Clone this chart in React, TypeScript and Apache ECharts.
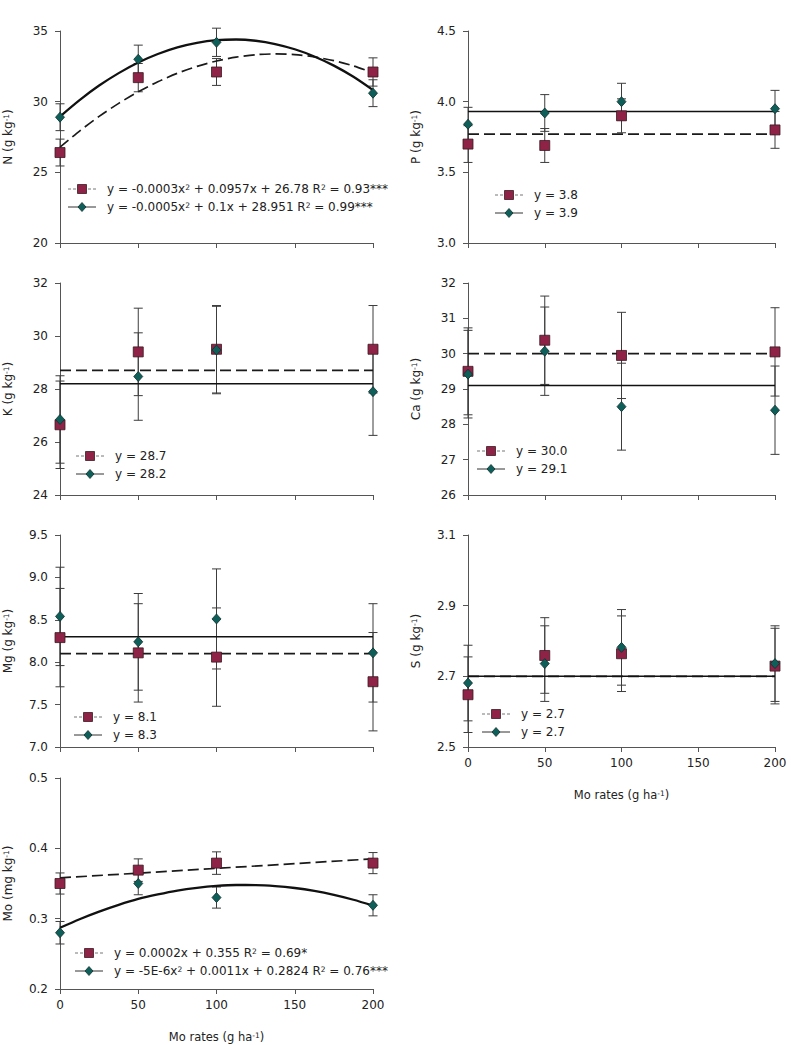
import React, { useEffect, useRef } from "react";
import * as echarts from "echarts";

// Mo application rates (g ha-1) where samples were taken
const rates = [0, 50, 100, 200];
// x positions of the sampled regression curves
const fitX = [0, 12.5, 25, 37.5, 50, 62.5, 75, 87.5, 100, 112.5, 125, 137.5, 150, 162.5, 175, 187.5, 200];

// N (g kg-1)
const nTicks = [20, 25, 30, 35];
const nRed = [26.4, 31.7, 32.1, 32.1];
const nRedErr = [0.95, 1.0, 0.95, 1.0];
const nGreen = [28.9, 33.0, 34.2, 30.6];
const nGreenErr = [0.95, 1.0, 1.0, 0.95];
const nRedCurve = [26.78, 27.92, 28.96, 29.88, 30.7, 31.41, 32.01, 32.5, 32.88, 33.15, 33.32, 33.38, 33.33, 33.17, 32.9, 32.53, 32.04];
const nGreenCurve = [28.95, 30.11, 31.14, 32.02, 32.77, 33.37, 33.84, 34.16, 34.35, 34.4, 34.31, 34.08, 33.71, 33.2, 32.55, 31.76, 30.82];

// P (g kg-1)
const pTicks = [3.0, 3.5, 4.0, 4.5];
const pRed = [3.7, 3.69, 3.9, 3.8];
const pRedErr = [0.13, 0.12, 0.12, 0.13];
const pGreen = [3.84, 3.92, 4.0, 3.95];
const pGreenErr = [0.12, 0.13, 0.13, 0.13];
const pRedMean = 3.77;
const pGreenMean = 3.93;

// K (g kg-1)
const kTicks = [24, 26, 28, 30, 32];
const kRed = [26.65, 29.4, 29.5, 29.5];
const kRedErr = [1.65, 1.65, 1.65, 1.65];
const kGreen = [26.85, 28.47, 29.47, 27.9];
const kGreenErr = [1.65, 1.65, 1.65, 1.65];
const kRedMean = 28.7;
const kGreenMean = 28.2;

// Ca (g kg-1)
const caTicks = [26, 27, 28, 29, 30, 31, 32];
const caRed = [29.5, 30.38, 29.95, 30.05];
const caRedErr = [1.23, 1.25, 1.22, 1.25];
const caGreen = [29.42, 30.07, 28.5, 28.4];
const caGreenErr = [1.24, 1.25, 1.23, 1.25];
const caRedMean = 30.0;
const caGreenMean = 29.1;

// Mg (g kg-1)
const mgTicks = [7.0, 7.5, 8.0, 8.5, 9.0, 9.5];
const mgRed = [8.29, 8.11, 8.06, 7.77];
const mgRedErr = [0.58, 0.58, 0.58, 0.58];
const mgGreen = [8.54, 8.24, 8.51, 8.11];
const mgGreenErr = [0.58, 0.57, 0.59, 0.58];
const mgRedMean = 8.1;
const mgGreenMean = 8.3;

// S (g kg-1)
const sTicks = [2.5, 2.7, 2.9, 3.1];
const sRed = [2.648, 2.759, 2.764, 2.729];
const sRedErr = [0.107, 0.107, 0.107, 0.107];
const sGreen = [2.681, 2.736, 2.782, 2.736];
const sGreenErr = [0.107, 0.107, 0.107, 0.107];
const sRedMean = 2.7;
const sGreenMean = 2.7;

// Mo (mg kg-1)
const moTicks = [0.2, 0.3, 0.4, 0.5];
const moRed = [0.35, 0.369, 0.379, 0.379];
const moRedErr = [0.015, 0.016, 0.016, 0.015];
const moGreen = [0.28, 0.35, 0.33, 0.319];
const moGreenErr = [0.016, 0.016, 0.015, 0.015];
const moLineX = [0, 200];
const moRedLine = [0.358, 0.385];
const moGreenCurve = [0.287, 0.2992, 0.31, 0.3196, 0.328, 0.3345, 0.34, 0.3439, 0.3466, 0.3479, 0.3478, 0.3464, 0.3436, 0.3394, 0.3338, 0.3269, 0.3186];

const FONT = "'DejaVu Sans', Verdana, sans-serif";
const RED = "#8E2347";
const GREEN = "#0E5F59";
const AXIS = "#555555";
const TEXT = "#222222";
const SUP = { fontSize: 7.5, verticalAlign: "top", lineHeight: 10, padding: [0, 0, 5, 0], fontFamily: FONT, color: TEXT };

const pairs = (xs: number[], ys: number[]) => xs.map((x, i) => [x, ys[i]]);
const flat = (m: number) => [[0, m], [200, m]];
const errs = (vals: number[], e: number[]) => rates.map((x, i) => [x, vals[i] - e[i], vals[i] + e[i]]);
const meanLabel = (m: number) => "y = " + m.toFixed(1);

type Panel = {
  yName: string;
  ticks: number[];
  dec: number;
  red: number[];
  redErr: number[];
  green: number[];
  greenErr: number[];
  redFit: number[][];
  greenFit: number[][];
  redLabel: string;
  greenLabel: string;
  box: number[];
  legend: number[];
  showX: boolean;
};

const panels: Panel[] = [
  {
    yName: "N (g kg{sup|-1})", ticks: nTicks, dec: 0,
    red: nRed, redErr: nRedErr, green: nGreen, greenErr: nGreenErr,
    redFit: pairs(fitX, nRedCurve), greenFit: pairs(fitX, nGreenCurve),
    redLabel: "y = -0.0003x{sup|2} + 0.0957x + 26.78 R{sup|2} = 0.93***",
    greenLabel: "y = -0.0005x{sup|2} + 0.1x + 28.951 R{sup|2} = 0.99***",
    box: [60, 31, 313, 212], legend: [68, 189], showX: false,
  },
  {
    yName: "P (g kg{sup|-1})", ticks: pTicks, dec: 1,
    red: pRed, redErr: pRedErr, green: pGreen, greenErr: pGreenErr,
    redFit: flat(pRedMean), greenFit: flat(pGreenMean),
    redLabel: meanLabel(pRedMean), greenLabel: meanLabel(pGreenMean),
    box: [468, 31, 307, 212], legend: [495, 195], showX: false,
  },
  {
    yName: "K (g kg{sup|-1})", ticks: kTicks, dec: 0,
    red: kRed, redErr: kRedErr, green: kGreen, greenErr: kGreenErr,
    redFit: flat(kRedMean), greenFit: flat(kGreenMean),
    redLabel: meanLabel(kRedMean), greenLabel: meanLabel(kGreenMean),
    box: [60, 283, 313, 212], legend: [76, 456], showX: false,
  },
  {
    yName: "Ca (g kg{sup|-1})", ticks: caTicks, dec: 0,
    red: caRed, redErr: caRedErr, green: caGreen, greenErr: caGreenErr,
    redFit: flat(caRedMean), greenFit: flat(caGreenMean),
    redLabel: meanLabel(caRedMean), greenLabel: meanLabel(caGreenMean),
    box: [468, 283, 307, 212], legend: [477, 451], showX: false,
  },
  {
    yName: "Mg (g kg{sup|-1})", ticks: mgTicks, dec: 1,
    red: mgRed, redErr: mgRedErr, green: mgGreen, greenErr: mgGreenErr,
    redFit: flat(mgRedMean), greenFit: flat(mgGreenMean),
    redLabel: meanLabel(mgRedMean), greenLabel: meanLabel(mgGreenMean),
    box: [60, 535, 313, 212], legend: [74, 717], showX: false,
  },
  {
    yName: "S (g kg{sup|-1})", ticks: sTicks, dec: 1,
    red: sRed, redErr: sRedErr, green: sGreen, greenErr: sGreenErr,
    redFit: flat(sRedMean), greenFit: flat(sGreenMean),
    redLabel: meanLabel(sRedMean), greenLabel: meanLabel(sGreenMean),
    box: [468, 535, 307, 212], legend: [482, 714], showX: true,
  },
  {
    yName: "Mo (mg kg{sup|-1})", ticks: moTicks, dec: 1,
    red: moRed, redErr: moRedErr, green: moGreen, greenErr: moGreenErr,
    redFit: pairs(moLineX, moRedLine), greenFit: pairs(fitX, moGreenCurve),
    redLabel: "y = 0.0002x + 0.355 R{sup|2} = 0.69*",
    greenLabel: "y = -5E-6x{sup|2} + 0.0011x + 0.2824 R{sup|2} = 0.76***",
    box: [60, 778, 313, 212], legend: [75, 953], showX: true,
  },
];

const errorBarRender = (params: any, api: any) => {
  const x = api.value(0);
  const lo = api.coord([x, api.value(1)]);
  const hi = api.coord([x, api.value(2)]);
  const cap = 4.5;
  const style = { stroke: "#3c3c3c", lineWidth: 1 };
  return {
    type: "group",
    children: [
      { type: "line", shape: { x1: lo[0], y1: lo[1], x2: hi[0], y2: hi[1] }, style },
      { type: "line", shape: { x1: lo[0] - cap, y1: lo[1], x2: lo[0] + cap, y2: lo[1] }, style },
      { type: "line", shape: { x1: hi[0] - cap, y1: hi[1], x2: hi[0] + cap, y2: hi[1] }, style },
    ],
  };
};

function buildOption() {
  const grid: any[] = [];
  const xAxis: any[] = [];
  const yAxis: any[] = [];
  const series: any[] = [];
  const graphic: any[] = [];

  panels.forEach((p, i) => {
    const [left, top, width, height] = p.box;
    grid.push({ left, top, width, height, containLabel: false });
    xAxis.push({
      type: "value", gridIndex: i, min: 0, max: 200, interval: 50,
      axisLine: { show: true, lineStyle: { color: AXIS, width: 1 } },
      axisTick: { show: true, length: 5, inside: false, lineStyle: { color: AXIS } },
      axisLabel: { show: p.showX, margin: 10, fontSize: 12, fontFamily: FONT, color: TEXT },
      splitLine: { show: false },
      name: p.showX ? "Mo rates (g ha{sup|-1})" : "",
      nameLocation: "middle",
      nameGap: 42,
      nameTextStyle: { fontSize: 11.5, fontFamily: FONT, color: TEXT, rich: { sup: SUP } },
    });
    const lo = p.ticks[0];
    const hi = p.ticks[p.ticks.length - 1];
    yAxis.push({
      type: "value", gridIndex: i, min: lo, max: hi,
      axisLine: { show: true, lineStyle: { color: AXIS, width: 1 } },
      axisTick: { show: true, length: 5, inside: false, customValues: p.ticks, lineStyle: { color: AXIS } },
      axisLabel: {
        show: true, margin: 12, fontSize: 12, fontFamily: FONT, color: TEXT,
        customValues: p.ticks,
        formatter: (v: number) => v.toFixed(p.dec),
      },
      splitLine: { show: false },
      name: p.yName,
      nameLocation: "middle",
      nameRotate: 90,
      nameGap: 46,
      nameTextStyle: { fontSize: 12, fontFamily: FONT, color: TEXT, rich: { sup: SUP } },
    });

    // error bars
    series.push({
      type: "custom", xAxisIndex: i, yAxisIndex: i, z: 2,
      renderItem: errorBarRender,
      encode: { x: 0, y: [1, 2] },
      data: [...errs(p.red, p.redErr), ...errs(p.green, p.greenErr)],
      silent: true,
    });
    // fitted lines
    series.push({
      type: "line", xAxisIndex: i, yAxisIndex: i, z: 3,
      data: p.redFit, smooth: p.redFit.length > 2 ? 0.25 : false, showSymbol: false, symbol: "none",
      lineStyle: { color: "#1a1a1a", width: 1.7, type: [11, 5] },
      silent: true,
    });
    series.push({
      type: "line", xAxisIndex: i, yAxisIndex: i, z: 4,
      data: p.greenFit, smooth: p.greenFit.length > 2 ? 0.25 : false, showSymbol: false, symbol: "none",
      lineStyle: { color: "#111111", width: p.greenFit.length > 2 ? 2.3 : 1.5, type: "solid" },
      silent: true,
    });
    // observed means
    series.push({
      type: "scatter", xAxisIndex: i, yAxisIndex: i, z: 5,
      data: pairs(rates, p.red), symbol: "rect", symbolSize: 10,
      itemStyle: { color: RED, borderColor: "#3a1a22", borderWidth: 0.8, opacity: 1 },
      silent: true,
    });
    series.push({
      type: "scatter", xAxisIndex: i, yAxisIndex: i, z: 6,
      data: pairs(rates, p.green), symbol: "diamond", symbolSize: [9, 10],
      itemStyle: { color: GREEN, borderColor: "#10302d", borderWidth: 0.8, opacity: 1 },
      silent: true,
    });

    // legend key for each panel
    const [lx, ly] = p.legend;
    const ly2 = ly + 18;
    const mx = lx + 14;
    graphic.push(
      { type: "line", shape: { x1: lx, y1: ly, x2: lx + 28, y2: ly }, style: { stroke: "#777", lineWidth: 1, lineDash: [3, 2] }, z: 10 },
      { type: "rect", shape: { x: mx - 4.5, y: ly - 4.5, width: 9, height: 9 }, style: { fill: RED, stroke: "#3a1a22", lineWidth: 0.8 }, z: 11 },
      {
        type: "text", x: lx + 39, y: ly, z: 11,
        style: { text: p.redLabel, fontSize: 12, fontFamily: FONT, fill: TEXT, verticalAlign: "middle", align: "left", rich: { sup: SUP } },
      },
      { type: "line", shape: { x1: lx, y1: ly2, x2: lx + 28, y2: ly2 }, style: { stroke: "#333", lineWidth: 1 }, z: 10 },
      {
        type: "polygon", z: 11,
        shape: { points: [[mx, ly2 - 4.5], [mx + 4, ly2], [mx, ly2 + 4.5], [mx - 4, ly2]] },
        style: { fill: GREEN, stroke: "#10302d", lineWidth: 0.8 },
      },
      {
        type: "text", x: lx + 39, y: ly2, z: 11,
        style: { text: p.greenLabel, fontSize: 12, fontFamily: FONT, fill: TEXT, verticalAlign: "middle", align: "left", rich: { sup: SUP } },
      }
    );
  });

  return { animation: false, backgroundColor: "#ffffff", grid, xAxis, yAxis, series, graphic };
}

export default function App() {
  const ref = useRef<HTMLDivElement | null>(null);
  useEffect(() => {
    if (!ref.current) return;
    const chart = echarts.init(ref.current, undefined, { renderer: "svg" });
    chart.setOption(buildOption() as any);
    return () => chart.dispose();
  }, []);
  return (
    <div
      ref={ref}
      style={{ position: "absolute", left: 0, top: 0, width: 791, height: 1045, background: "#fff" }}
    />
  );
}
